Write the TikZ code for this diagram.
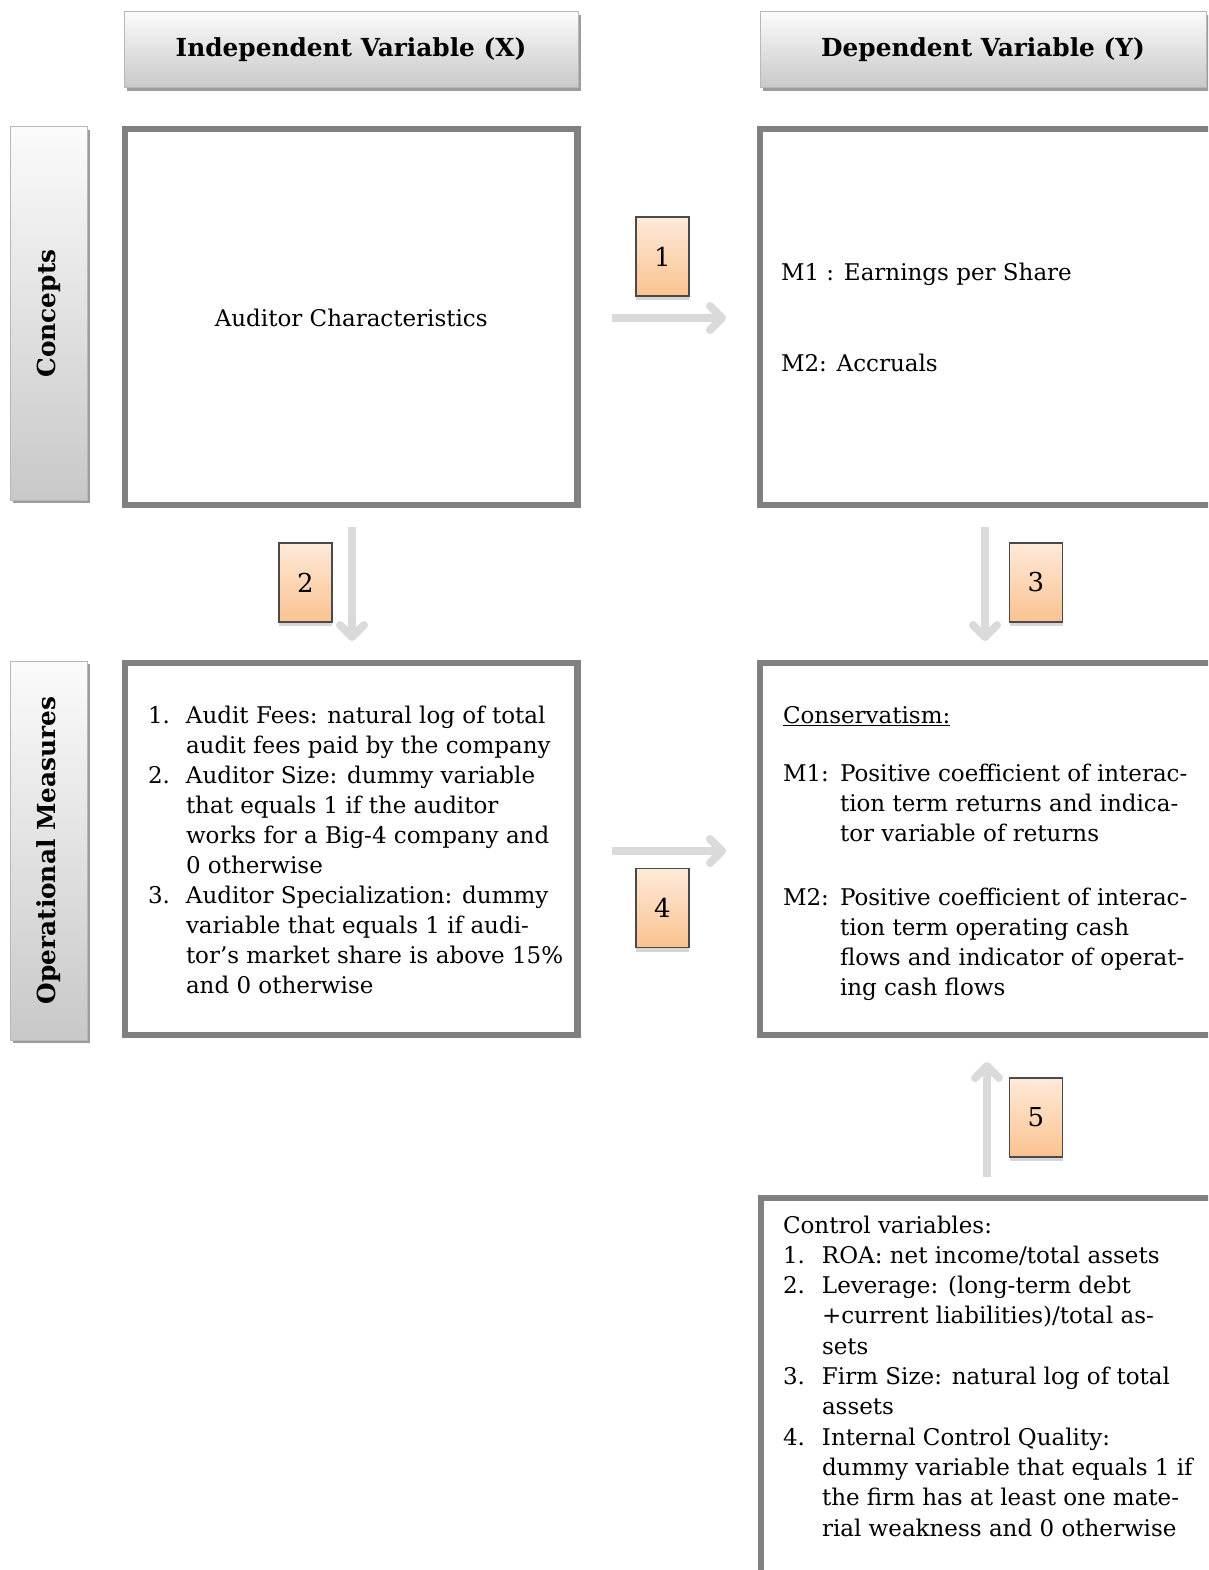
\documentclass[tikz,border=0pt]{standalone}
\usepackage{fontspec}
\setmainfont{DejaVu Serif}
\usetikzlibrary{arrows.meta,shadows}
\definecolor{bordergray}{HTML}{808080}
\definecolor{arrowgray}{HTML}{DADADA}
\definecolor{peachtop}{HTML}{FEEADA}
\definecolor{peachbot}{HTML}{FBC28F}
\definecolor{hdrtop}{HTML}{FBFBFB}
\definecolor{hdrbot}{HTML}{C8C8C8}
\definecolor{hdrline}{HTML}{B8B8B8}
\definecolor{shadowgray}{HTML}{9C9C9C}
\definecolor{numshadow}{HTML}{D6D6D6}
\definecolor{numline}{HTML}{4A4A4A}
\newcommand\bodysize{\fontsize{23}{30}\selectfont}
\newcommand\boldsize{\fontsize{24.8}{30}\selectfont\bfseries}
\tikzset{
  hdr/.style={draw=hdrline, line width=1pt, top color=hdrtop, bottom color=hdrbot,
    inner sep=0pt, outer sep=0pt,
    drop shadow={shadow xshift=3pt, shadow yshift=-3pt, fill=shadowgray, opacity=1}},
  mainbox/.style={draw=bordergray, line width=6.5pt, fill=white, inner sep=0pt, outer sep=0pt},
  numbox/.style={draw=numline, line width=1.5pt, top color=peachtop, bottom color=peachbot,
    inner sep=0pt, outer sep=0pt, minimum width=53pt, minimum height=79pt,
    font=\fontsize{26}{30}\selectfont,
    drop shadow={shadow xshift=0pt, shadow yshift=-4pt, fill=numshadow, opacity=1}},
  txt/.style={inner sep=0pt, outer sep=0pt, font=\bodysize},
  flow/.style={draw=arrowgray, line width=8pt, -{Straight Barb[round,length=12pt,width=24pt]}}
}
\begin{document}
\begin{tikzpicture}[x=1pt,y=-1pt]
\useasboundingbox (0,0) rectangle (1208,1570);
\clip (0,0) rectangle (1208,1570);

% headers
\node[hdr, minimum width=454pt, minimum height=76pt, font=\boldsize] (hdrX) at (351,50) {Independent Variable (X)};
\node[hdr, minimum width=446pt, minimum height=76pt, font=\boldsize] (hdrY) at (983,50) {Dependent Variable (Y)};

% side labels
\node[hdr, minimum width=77pt, minimum height=373pt] (sideC) at (48.5,313.5) {};
\node[txt, rotate=90, font=\boldsize] (sideCtxt) at (sideC.center) {Concepts};
\node[hdr, minimum width=77pt, minimum height=379pt] (sideO) at (48.5,850.5) {};
\node[txt, rotate=90, font=\boldsize] (sideOtxt) at (sideO.center) {Operational Measures};

% main boxes
\node[mainbox, minimum width=452.5pt, minimum height=376pt] (concL) at (351.25,317) {};
\node[mainbox, minimum width=460pt, minimum height=376pt] (concR) at (990,317) {};
\node[mainbox, minimum width=452.5pt, minimum height=372pt] (opL) at (351.25,849) {};
\node[mainbox, minimum width=460pt, minimum height=372pt] (opR) at (990,849) {};
\node[mainbox, minimum width=459pt, minimum height=402pt] (ctrl) at (990.5,1399) {};

% texts
\node[txt] (auditor) at (351.25,318) {Auditor Characteristics};
\node[txt, anchor=base west] (m1c) at (781,280) {M1 : Earnings per Share};
\node[txt, anchor=base west] (m2c) at (781,371) {M2: Accruals};

\node[txt, anchor=base west] (opLtxt) at (148,723) {\begin{tabular}[t]{@{}p{38pt}@{}l@{}}
1. & Audit Fees: natural log of total\\
   & audit fees paid by the company\\
2. & Auditor Size: dummy variable\\
   & that equals 1 if the auditor\\
   & works for a Big-4 company and\\
   & 0 otherwise\\
3. & Auditor Specialization: dummy\\
   & variable that equals 1 if audi-\\
   & tor’s market share is above 15\%\\
   & and 0 otherwise
\end{tabular}};

\node[txt, anchor=base west] (cons) at (783,723) {\underline{Conservatism:}};
\node[txt, anchor=base west] (m1op) at (783,781) {\begin{tabular}[t]{@{}p{57pt}@{}l@{}}
M1: & Positive coefficient of interac-\\
    & tion term returns and indica-\\
    & tor variable of returns
\end{tabular}};
\node[txt, anchor=base west] (m2op) at (783,905) {\begin{tabular}[t]{@{}p{57pt}@{}l@{}}
M2: & Positive coefficient of interac-\\
    & tion term operating cash\\
    & flows and indicator of operat-\\
    & ing cash flows
\end{tabular}};

\node[txt, anchor=base west] (ctrltxt) at (783,1233) {\fontsize{23}{30.3}\selectfont\begin{tabular}[t]{@{}p{39pt}@{}l@{}}
\multicolumn{2}{@{}l@{}}{Control variables:}\\
1. & ROA: net income/total assets\\
2. & Leverage: (long-term debt\\
   & +current liabilities)/total as-\\
   & sets\\
3. & Firm Size: natural log of total\\
   & assets\\
4. & Internal Control Quality:\\
   & dummy variable that equals 1 if\\
   & the firm has at least one mate-\\
   & rial weakness and 0 otherwise
\end{tabular}};

% number boxes
\node[numbox] (n1) at (662.5,256.5) {1};
\node[numbox] (n2) at (305.5,582.5) {2};
\node[numbox] (n3) at (1036,582.5) {3};
\node[numbox] (n4) at (662.5,908) {4};
\node[numbox] (n5) at (1036,1117.5) {5};

% arrows
\coordinate (a1s) at (612,318);  \coordinate (a1e) at (726,318);
\coordinate (a2s) at (352,527);  \coordinate (a2e) at (352,641);
\coordinate (a3s) at (985,527);  \coordinate (a3e) at (985,641);
\coordinate (a4s) at (612,851);  \coordinate (a4e) at (726,851);
\coordinate (a5s) at (987,1177); \coordinate (a5e) at (987,1062);
\draw[flow] (a1s) -- (a1e);
\draw[flow] (a2s) -- (a2e);
\draw[flow] (a3s) -- (a3e);
\draw[flow] (a4s) -- (a4e);
\draw[flow] (a5s) -- (a5e);
\end{tikzpicture}
\end{document}
